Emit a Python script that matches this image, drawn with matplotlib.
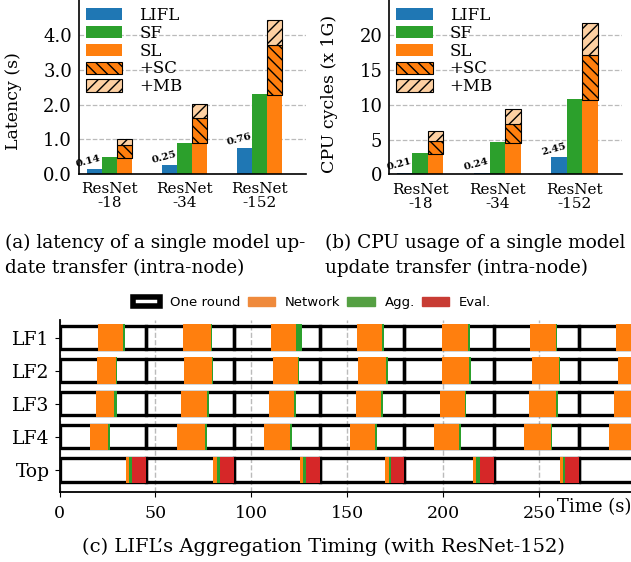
import numpy as np
import matplotlib
matplotlib.use('Agg')
import matplotlib.pyplot as plt
from matplotlib.patches import Patch

plt.rcParams['font.family'] = ['DejaVu Serif']
plt.rcParams['hatch.linewidth'] = 1.0

# ---- data: single model update transfer ----
models = ['ResNet\n-18', 'ResNet\n-34', 'ResNet\n-152']

lat_lifl = [0.14, 0.25, 0.76]
lat_sf = [0.48, 0.90, 2.30]
lat_sl = [0.47, 0.89, 2.27]
lat_sc = [0.36, 0.74, 1.45]   # added on top of SL
lat_mb = [0.19, 0.40, 0.71]   # added on top of SL+SC

cpu_lifl = [0.21, 0.24, 2.45]
cpu_sf = [3.1, 4.7, 10.8]
cpu_sl = [2.92, 4.55, 10.7]
cpu_sc = [1.88, 2.75, 6.5]
cpu_mb = [1.4, 2.1, 4.5]

# ---- data: aggregation timing (seconds) ----
rows = ['LF1', 'LF2', 'LF3', 'LF4', 'Top']
round_ends = [45.2, 90.9, 135.8, 179.8, 226.6, 271.1]

lf1_net = [20.2, 64.5, 110.3, 155.3, 199.5, 245.4, 290.2]
lf1_agg = [33.1, 79.1, 123.4, 168.1, 213.0, 258.9, 305.0]
lf1_end = [34.0, 79.7, 126.3, 169.1, 214.0, 259.5, 306.0]

lf2_net = [19.7, 64.9, 111.2, 155.8, 199.6, 246.4, 291.2]
lf2_agg = [29.5, 79.6, 124.4, 170.4, 213.5, 260.4, 305.0]
lf2_end = [30.2, 80.3, 125.0, 171.4, 214.5, 261.0, 306.0]

lf3_net = [19.0, 63.3, 109.2, 154.6, 198.4, 244.8, 289.1]
lf3_agg = [28.4, 76.7, 122.4, 167.5, 211.4, 258.9, 305.0]
lf3_end = [30.0, 77.8, 123.5, 168.5, 212.0, 259.7, 306.0]

lf4_net = [15.9, 61.3, 106.6, 151.5, 195.4, 242.2, 286.7]
lf4_agg = [25.4, 75.9, 120.2, 164.5, 208.3, 256.4, 305.0]
lf4_end = [26.3, 76.7, 121.0, 165.4, 209.2, 257.0, 306.0]

top_net = [34.5, 80.2, 125.4, 169.7, 215.6, 261.0]
top_agg = [36.1, 81.9, 127.1, 171.6, 217.3, 262.4]
top_eval = [37.6, 83.7, 128.5, 172.7, 219.2, 263.6]

C_BLUE, C_GREEN, C_ORANGE, C_RED = '#1f77b4', '#2ca02c', '#ff7f0e', '#d62728'
C_PEACH = '#fdd0a2'


def draw_bars(ax, lifl, sf, sl, sc, mb):
    x = np.arange(len(models))
    w = 0.2
    sl = np.array(sl)
    sc = np.array(sc)
    ax.bar(x - w, lifl, w, color=C_BLUE, label='LIFL')
    ax.bar(x, sf, w, color=C_GREEN, label='SF')
    ax.bar(x + w, sl, w, color=C_ORANGE, label='SL')
    ax.bar(x + w, sc, w, bottom=sl, color=C_ORANGE, edgecolor='black',
           lw=0.8, hatch='\\\\\\', label='+SC')
    ax.bar(x + w, mb, w, bottom=sl + sc, color=C_PEACH, edgecolor='black',
           lw=0.8, hatch='///', label='+MB')
    for xi, v in zip(x, lifl):
        ax.annotate(f'{v:.2f}', (xi - w, v), xytext=(-4, 0.5),
                    textcoords='offset points', ha='center', va='bottom',
                    rotation=15, fontsize=7.5, fontweight='bold')
    ax.set_xticks(x)
    ax.set_xticklabels(models, fontsize=11, linespacing=1.0)
    ax.set_xlim(-0.4, 2.61)
    ax.spines[['top', 'right']].set_visible(False)
    ax.spines[['left', 'bottom']].set_linewidth(1.2)
    ax.tick_params(axis='x', length=0, pad=6)
    ax.tick_params(axis='y', length=0, pad=5, labelsize=13)
    ax.set_axisbelow(True)
    ax.grid(axis='y', ls='--', color='#bbbbbb', lw=0.9)
    ax.legend(loc='upper left', bbox_to_anchor=(0.03, 0.96), frameon=False,
              fontsize=12, handlelength=2.2, handleheight=0.75,
              labelspacing=0.05, handletextpad=1.0, borderpad=0,
              borderaxespad=0)


fig = plt.figure(figsize=(6.31, 5.62), dpi=100)

# (a) latency
ax1 = fig.add_axes([79 / 631, 1 - 174 / 562, 226.7 / 631, 174 / 562])
draw_bars(ax1, lat_lifl, lat_sf, lat_sl, lat_sc, lat_mb)
ax1.set_ylim(0, 5.02)
ax1.set_yticks([0, 1, 2, 3, 4])
ax1.set_yticklabels(['0.0', '1.0', '2.0', '3.0', '4.0'])
ax1.set_ylabel('Latency (s)', fontsize=12.5)
ax1.yaxis.set_label_coords(-0.25, 0.42)

# (b) cpu
ax2 = fig.add_axes([389.3 / 631, 1 - 174.3 / 562, 232.4 / 631, 174.3 / 562])
draw_bars(ax2, cpu_lifl, cpu_sf, cpu_sl, cpu_sc, cpu_mb)
ax2.set_ylim(0, 25.08)
ax2.set_yticks([0, 5, 10, 15, 20])
ax2.set_ylabel('CPU cycles (x 1G)', fontsize=12.5)
ax2.yaxis.set_label_coords(-0.22, 0.46)

cap = 13.3
fig.text(5 / 631, 1 - 243 / 562, '(a) latency of a single model up-', fontsize=cap, va='center')
fig.text(5 / 631, 1 - 268 / 562, 'date transfer (intra-node)', fontsize=cap, va='center')
fig.text(325 / 631, 1 - 243 / 562, '(b) CPU usage of a single model', fontsize=cap, va='center')
fig.text(325 / 631, 1 - 268 / 562, 'update transfer (intra-node)', fontsize=cap, va='center')

# (c) aggregation timing
ax3 = fig.add_axes([59.5 / 631, 1 - 492 / 562, 571.5 / 631, 172 / 562])
ypos = {name: len(rows) - 1 - i for i, name in enumerate(rows)}
box_start = np.array([0] + round_ends)
box_stop = np.array(round_ends + [320])

lf_data = {'LF1': (lf1_net, lf1_agg, lf1_end), 'LF2': (lf2_net, lf2_agg, lf2_end),
           'LF3': (lf3_net, lf3_agg, lf3_end), 'LF4': (lf4_net, lf4_agg, lf4_end)}

for name in rows:
    y = ypos[name]
    ax3.barh(y, box_stop - box_start, left=box_start, height=0.7,
             facecolor='none', edgecolor='black', lw=2.4, zorder=2)
    if name in lf_data:
        net, agg, end = (np.array(a) for a in lf_data[name])
        ax3.barh(y, agg - net, left=net, height=0.8, color=C_ORANGE, zorder=3)
        ax3.barh(y, end - agg, left=agg, height=0.8, color=C_GREEN, zorder=3)
    else:
        net, agg, ev, end = (np.array(a) for a in (top_net, top_agg, top_eval, round_ends))
        ax3.barh(y, agg - net, left=net, height=0.8, color=C_ORANGE, zorder=3)
        ax3.barh(y, ev - agg, left=agg, height=0.8, color=C_GREEN, zorder=3)
        ax3.barh(y, end - ev, left=ev, height=0.8, color=C_RED, zorder=3)

ax3.set_xlim(0, 298)
ax3.set_ylim(-0.665, 4.53)
ax3.set_yticks([ypos[n] for n in rows])
ax3.set_yticklabels(rows, fontsize=13.5)
ax3.set_xticks([0, 50, 100, 150, 200, 250])
ax3.tick_params(axis='x', labelsize=12.5, pad=6)
ax3.spines[['top', 'right']].set_visible(False)
ax3.spines[['left', 'bottom']].set_linewidth(1.3)
ax3.set_axisbelow(True)
ax3.grid(axis='x', ls='--', color='#bbbbbb', lw=1.0)
ax3.text(1.0, -0.09, 'Time (s)', transform=ax3.transAxes, ha='right',
         va='center', fontsize=13)

handles = [Patch(facecolor='white', edgecolor='black', lw=4, label='One round'),
           Patch(color='#ef8a3c', label='Network'),
           Patch(color='#55a043', label='Agg.'),
           Patch(color='#c83c34', label='Eval.')]
ax3.legend(handles=handles, loc='center', bbox_to_anchor=(0.442, 1.099), ncol=4,
           frameon=False, prop={'family': 'DejaVu Sans', 'size': 9.5},
           handlelength=2.05, handletextpad=0.75, columnspacing=0.55,
           borderaxespad=0, borderpad=0)

fig.text(323 / 631, 1 - 547 / 562, '(c) LIFL\u2019s Aggregation Timing (with ResNet-152)',
         fontsize=14, ha='center', va='center')

fig.savefig('out.png', dpi=100)
